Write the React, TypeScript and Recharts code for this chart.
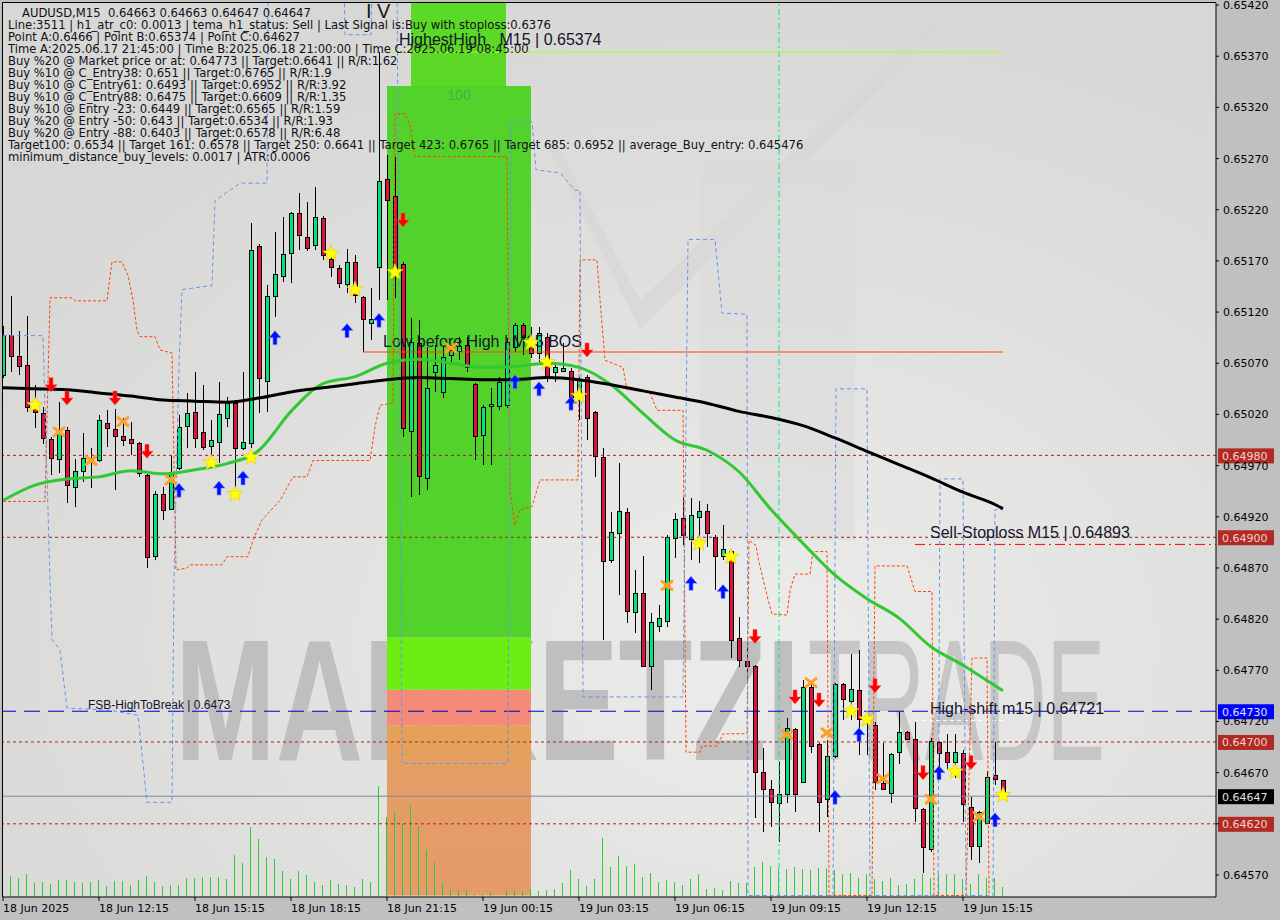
import React from 'react';
import { ComposedChart, Bar, Line, Scatter, XAxis, YAxis, ReferenceLine, ReferenceArea } from 'recharts';

// ---------- data ----------
const opens = [
  0.65059,0.65098,0.65077,0.65068,0.65026,0.65021,0.64996,0.64976,0.65005,0.64949,
  0.64965,0.64974,0.64975,0.65012,0.65006,0.64999,0.64996,0.64992,0.64961,0.64882,
  0.64942,0.64928,0.64968,0.65009,0.65022,0.65003,0.64989,0.64993,0.65017,0.65031,
  0.64987,0.64992,0.65185,0.65053,0.65136,0.65155,0.65178,0.65217,0.65193,0.65186,
  0.65212,0.65172,0.65163,0.65147,0.65169,0.65135,0.65109,0.65164,0.6525,0.65233,
  0.65167,0.65004,0.6509,0.64958,0.65061,0.65042,0.65078,0.65082,0.65088,0.6505,
  0.65,0.65028,0.65028,0.65029,0.65086,0.65107,0.65093,0.6508,0.65096,0.65061,
  0.65062,0.65062,0.65037,0.65057,0.65022,0.64978,0.64878,0.64904,0.64925,0.64827,
  0.64846,0.64774,0.64813,0.64818,0.64899,0.64919,0.64898,0.6492,0.64926,0.649,
  0.64882,0.64887,0.64802,0.64779,0.64774,0.64671,0.64654,0.6464,0.64649,0.64713,
  0.64661,0.64754,0.64698,0.64644,0.64686,0.64757,0.6474,0.64751,0.64722,0.64717,
  0.6466,0.6465,0.6469,0.6471,0.64703,0.64634,0.64595,0.647,0.6469,0.6468,
  0.64689,0.64636,0.64598,0.64621,0.64668,0.64663,
];
const highs = [
  0.65106,0.65136,0.65102,0.65116,0.65049,0.65027,0.64998,0.65032,0.65008,0.64976,
  0.65002,0.64987,0.65019,0.65024,0.65025,0.65017,0.65013,0.64993,0.64962,0.64945,
  0.64949,0.64979,0.65019,0.65041,0.65061,0.65049,0.65015,0.65052,0.65037,0.65034,
  0.65061,0.65207,0.65187,0.65146,0.65198,0.65213,0.65218,0.65236,0.65228,0.65242,
  0.65214,0.65176,0.65166,0.65182,0.65176,0.65136,0.65144,0.65374,0.65273,0.65272,
  0.65169,0.65114,0.65112,0.65086,0.65088,0.65086,0.65088,0.65096,0.65096,0.65051,
  0.65029,0.65046,0.65057,0.65095,0.65109,0.65109,0.65105,0.65105,0.651,0.65068,
  0.6509,0.65065,0.65057,0.65059,0.65023,0.64987,0.64925,0.64973,0.64929,0.64868,
  0.64882,0.64826,0.64834,0.64902,0.64924,0.64938,0.64938,0.64935,0.64932,0.64902,
  0.64912,0.64888,0.64822,0.64797,0.64775,0.64694,0.64663,0.6468,0.64723,0.64714,
  0.64761,0.64758,0.64699,0.64702,0.64758,0.64758,0.64786,0.6479,0.64726,0.64719,
  0.64699,0.64689,0.64729,0.64711,0.64719,0.64635,0.64704,0.64701,0.64708,0.64708,
  0.64692,0.64646,0.64633,0.64672,0.647,0.64663,
];
const lows = [
  0.65056,0.65061,0.65059,0.65022,0.65007,0.64991,0.64961,0.64963,0.64933,0.6493,
  0.64954,0.64948,0.64974,0.64988,0.64946,0.64989,0.6498,0.64959,0.6487,0.64878,
  0.64917,0.64927,0.64966,0.64987,0.64987,0.64985,0.64978,0.64973,0.65008,0.64949,
  0.64985,0.64987,0.65021,0.65022,0.65115,0.65149,0.65148,0.65181,0.6518,0.65181,
  0.65171,0.65154,0.65144,0.65139,0.65129,0.65081,0.65093,0.65132,0.65132,0.65134,
  0.64998,0.64939,0.64941,0.64946,0.65042,0.65036,0.65068,0.65073,0.65061,0.64975,
  0.64971,0.64971,0.65024,0.65026,0.65081,0.65078,0.65075,0.65071,0.65052,0.65052,
  0.65061,0.65024,0.65015,0.64995,0.64959,0.648,0.64875,0.64844,0.64816,0.64806,
  0.64773,0.64751,0.64807,0.64812,0.6488,0.64892,0.64878,0.64875,0.6489,0.64848,
  0.64878,0.64782,0.64773,0.64758,0.64626,0.64612,0.64617,0.64602,0.6464,0.64632,
  0.6466,0.64689,0.64612,0.64627,0.64684,0.64721,0.64721,0.64687,0.64687,0.64653,
  0.64653,0.6464,0.64678,0.64702,0.64622,0.64572,0.64592,0.64673,0.64673,0.64665,
  0.64622,0.64585,0.64582,0.64621,0.64658,0.64647,
];
const closes = [
  0.65098,0.65077,0.65067,0.65027,0.65022,0.64997,0.64977,0.65002,0.64951,0.64965,
  0.64977,0.64977,0.65015,0.65007,0.64999,0.64995,0.64992,0.64963,0.64881,0.64942,
  0.64927,0.64964,0.65008,0.65021,0.64997,0.64988,0.64995,0.6502,0.65031,0.64987,
  0.64993,0.65181,0.65056,0.65136,0.65157,0.65177,0.65217,0.65195,0.65183,0.65213,
  0.65176,0.65164,0.65148,0.65169,0.65137,0.65113,0.65113,0.65248,0.6523,0.65159,
  0.65007,0.65091,0.6496,0.65046,0.65068,0.65076,0.65083,0.65087,0.65066,0.64999,
  0.65027,0.6503,0.65052,0.65091,0.65107,0.65096,0.6508,0.651,0.65056,0.65066,
  0.65065,0.65037,0.65054,0.65017,0.64979,0.64877,0.64905,0.64926,0.64828,0.64846,
  0.64774,0.64817,0.64821,0.649,0.64918,0.64902,0.64922,0.64926,0.64904,0.64882,
  0.64889,0.648,0.6478,0.64774,0.64671,0.64654,0.64641,0.64649,0.64714,0.64649,
  0.64754,0.64696,0.64641,0.64686,0.64757,0.64742,0.64752,0.64722,0.64719,0.64661,
  0.64654,0.64688,0.6471,0.64703,0.64635,0.64597,0.64701,0.64689,0.6468,0.6469,
  0.64639,0.64598,0.64632,0.64666,0.64664,0.64647,
];
const volumes = [
  280,210,190,230,140,150,130,170,170,150,
  140,150,170,110,160,160,120,170,210,150,
  110,120,120,190,190,200,200,200,180,420,
  340,700,580,400,380,260,180,260,220,150,
  120,170,130,120,100,180,150,1110,800,850,
  730,910,710,470,350,140,80,70,70,20,
  20,50,10,70,70,60,80,60,70,80,
  140,270,180,110,180,590,300,410,310,330,
  200,240,150,170,150,120,180,230,80,90,
  70,160,140,140,300,350,310,280,280,300,
  280,270,290,290,270,230,240,190,230,180,
  160,190,120,130,180,230,190,230,230,230,
  180,130,230,190,190,100,
];

const xTickIdx = [0, 12, 24, 36, 48, 60, 72, 84, 96, 108, 120];
const xTickLabels = [
  '18 Jun 2025', '18 Jun 12:15', '18 Jun 15:15', '18 Jun 18:15', '18 Jun 21:15',
  '19 Jun 00:15', '19 Jun 03:15', '19 Jun 06:15', '19 Jun 09:15', '19 Jun 12:15', '19 Jun 15:15',
];
const priceTicks = [
  0.6542, 0.6537, 0.6532, 0.6527, 0.6522, 0.6517, 0.6512, 0.6507, 0.6502,
  0.6497, 0.6492, 0.6487, 0.6482, 0.6477, 0.6472, 0.6467, 0.6462, 0.6457,
];

// moving averages (sampled along the bars)
const maIdx = [0,4,8,12,16,20,24,28,32,36,40,44,48,52,56,60,64,68,72,76,80,84,88,92,96,100,104,108,112,116,120,124,125];
const maSlow = [
  0.65046,0.65045,0.65044,0.65041,0.65038,0.65034,0.65033,0.65032,0.65036,0.65042,0.65046,
  0.6505,0.65054,0.65056,0.65055,0.65054,0.65054,0.65056,0.65054,0.65049,0.65043,0.65037,
  0.65031,0.65023,0.65017,0.65009,0.64997,0.64984,0.64971,0.64958,0.64944,0.64932,0.64928,
];
const maFast = [
  0.64936,0.64951,0.64957,0.64959,0.64965,0.64962,0.64966,0.64972,0.64985,0.65023,0.6505,
  0.65057,0.6507,0.65074,0.6507,0.65066,0.65067,0.6507,0.65066,0.65049,0.65021,0.64995,
  0.64985,0.64964,0.64927,0.64894,0.64863,0.6484,0.64821,0.64793,0.64775,0.64755,0.6475,
];

// stepped envelopes
const blueEnvX = [0,5,5.875,6.125,7.125,8,13.375,16.875,18,21.125,21.375,22,22.375,26.125,26.5,29.625,33,33.125,42.625,42.75,46,46.125,49.25,49.875,63.125,63.5,66.125,66.625,69.625,71.5,72.125,72.5,85,85.625,89,89.875,93,93.125,103.75,104.125,108,108.375,116.875,117.125,120,120.375,123.75,124,125];
const blueEnvP = [0.65097,0.65097,0.64858,0.648,0.6479,0.64733,0.64731,0.64726,0.64641,0.64641,0.64858,0.6507,0.65142,0.65146,0.65229,0.65246,0.65246,0.65445,0.65445,0.65391,0.65391,0.65445,0.65445,0.64679,0.64679,0.65306,0.65306,0.65259,0.65256,0.65239,0.65239,0.64744,0.64744,0.65191,0.65191,0.65119,0.65118,0.6455,0.6455,0.65045,0.65045,0.6455,0.6455,0.64957,0.64957,0.6455,0.6455,0.64927,0.64927];
const orangeEnvX = [0,5.25,5.875,8.625,9,13,13.625,14.875,15.625,16.25,16.75,17.125,19,19.625,21.125,21.625,23,23.375,27.375,28,30.625,31.25,32.375,34.625,36.25,38,38.75,45.875,46.5,47.125,48.75,49,50.25,50.875,51.5,63,63.375,64,64.625,66.125,67.125,71.875,72.125,74.25,74.625,75.25,77.5,78,80,80.875,81.75,85,85.375,87.125,87.375,89.25,90,93,93.25,94.125,94.375,95.625,96.125,98,98.375,99,100.875,101.25,103,103.25,108.625,109,113,114,116.125,116.375,120.375,121.125,123,123.25];
const orangeEnvP = [0.64935,0.64935,0.65134,0.65134,0.65131,0.65131,0.65169,0.65169,0.65156,0.65132,0.65102,0.65096,0.65096,0.65083,0.6508,0.64868,0.6487,0.64873,0.64873,0.64881,0.64881,0.64897,0.64917,0.64936,0.64959,0.64959,0.64975,0.64975,0.65008,0.65029,0.65031,0.65314,0.65314,0.65303,0.65272,0.65272,0.64946,0.64912,0.64927,0.6493,0.64956,0.64956,0.65171,0.65171,0.65132,0.65073,0.65066,0.65044,0.65044,0.65041,0.65024,0.65024,0.6469,0.6469,0.64696,0.64696,0.64708,0.64708,0.64897,0.64892,0.6488,0.64839,0.64825,0.64824,0.64848,0.64864,0.64864,0.64886,0.64886,0.6455,0.6455,0.64872,0.64872,0.64847,0.64847,0.6455,0.6455,0.64782,0.64782,0.6455];

// signal markers [bar, price]
const starMarks = [[4,0.65029],[26,0.64973],[29,0.64942],[31,0.64978],[41,0.65177],[44,0.65142],[49,0.65159],[66,0.6509],[68,0.65071],[72,0.65038],[87,0.64894],[91,0.64881],[106,0.6473],[108,0.64722],[119,0.64671],[125,0.64648]];
const crossMarks = [[7,0.65003],[11,0.64975],[15,0.65013],[21,0.64956],[56,0.65085],[83,0.64853],[98,0.64707],[101,0.64758],[103,0.64709],[110,0.64664],[116,0.64644],[122,0.64627]];
const downMarks = [[6,0.65049],[8,0.65036],[14,0.65036],[18,0.64984],[50,0.6521],[73,0.65083],[94,0.64803],[99,0.64744],[102,0.64741],[109,0.64755],[115,0.6467],[121,0.6468]];
const upMarks = [[22,0.64946],[27,0.64948],[30,0.64958],[34,0.65095],[43,0.65102],[47,0.65112],[64,0.65052],[67,0.65045],[71,0.65031],[86,0.64855],[90,0.64847],[104,0.64646],[107,0.64707],[117,0.6467],[124,0.64624]];

// levels
const dottedLevels = [0.6498, 0.649, 0.647, 0.6462];
const fsbLevel = 0.6473;
const bidLevel = 0.64647;
const highestHigh = 0.65374;
const lowBeforeHigh = 0.65081;
const sellStop = 0.64893;
const highShift = 0.64721;
const tagValues = [0.6498, 0.649, 0.6473, 0.647, 0.64647, 0.6462];
const zoneBars = [48, 66];
const zoneTopBars = [51, 62.875];
const zoneBands = [0.6455, 0.64716, 0.64751, 0.64802, 0.65341, 0.6543];
const vLineBar = 97;

const infoLines = [
  'Line:3511 | h1_atr_c0: 0.0013 | tema_h1_status: Sell | Last Signal is:Buy with stoploss:0.6376',
  'Point A:0.6466 | Point B:0.65374 | Point C:0.64627',
  'Time A:2025.06.17 21:45:00 | Time B:2025.06.18 21:00:00 | Time C:2025.06.19 08:45:00',
  'Buy %20 @ Market price or at: 0.64773 || Target:0.6641 || R/R:1.62',
  'Buy %10 @ C_Entry38: 0.651 || Target:0.6765 || R/R:1.9',
  'Buy %10 @ C_Entry61: 0.6493 || Target:0.6952 || R/R:3.92',
  'Buy %10 @ C_Entry88: 0.6475 || Target:0.6609 || R/R:1.35',
  'Buy %10 @ Entry -23: 0.6449 || Target:0.6565 || R/R:1.59',
  'Buy %20 @ Entry -50: 0.643 || Target:0.6534 || R/R:1.93',
  'Buy %20 @ Entry -88: 0.6403 || Target:0.6578 || R/R:6.48',
  'Target100: 0.6534 || Target 161: 0.6578 || Target 250: 0.6641 || Target 423: 0.6765 || Target 685: 0.6952 || average_Buy_entry: 0.645476',
  'minimum_distance_buy_levels: 0.0017 | ATR:0.0006',
];
const headerLine = 'AUDUSD,M15  0.64663 0.64663 0.64647 0.64647';

// ---------- derived tables ----------
const candles = opens.map((o, i) => ({
  i, o, h: highs[i], l: lows[i], c: closes[i], range: [lows[i], highs[i]], vol: volumes[i],
}));
const pts = (xs: number[], ps: number[]) => xs.map((x, k) => ({ i: x, p: ps[k] }));
const slowPts = pts(maIdx, maSlow);
const fastPts = pts(maIdx, maFast);
const bluePts = pts(blueEnvX, blueEnvP);
const orangePts = pts(orangeEnvX, orangeEnvP);
const mk = (a: number[][]) => a.map(([i, p]) => ({ i, p }));

const AX = 'DejaVu Sans';
const LS = 'Liberation Sans';
const PRICE_DOMAIN: [number, number] = [0.645485, 0.65422];

function CandleShape(props: any) {
  const { x, y, width, height, payload } = props;
  if (!payload || x == null || y == null) return null;
  const top = Math.min(y, y + height);
  const hgt = Math.abs(height);
  const span = payload.h - payload.l;
  const k = span > 0 ? hgt / span : 0;
  const yO = top + (payload.h - payload.o) * k;
  const yC = top + (payload.h - payload.c) * k;
  const cx = Math.round(x + width / 2) + 0.5;
  const b1 = Math.round(Math.min(yO, yC)) + 0.5;
  const b2 = Math.max(b1 + 1, Math.round(Math.max(yO, yC)) + 0.5);
  const up = payload.c >= payload.o;
  return (
    <g>
      <line x1={cx} x2={cx} y1={Math.round(top)} y2={Math.round(top + hgt)} stroke="#000" strokeWidth={1} />
      <rect x={cx - 2} y={b1} width={4} height={b2 - b1} fill={up ? '#00e47a' : '#dc143c'} stroke="#000" strokeWidth={1} />
    </g>
  );
}

function StarShape(props: any) {
  const { cx, cy } = props;
  const p: string[] = [];
  for (let k = 0; k < 10; k++) {
    const r = k % 2 === 0 ? 8.5 : 3.6;
    const a = -Math.PI / 2 + (k * Math.PI) / 5;
    p.push(`${cx + r * Math.cos(a)},${cy + r * Math.sin(a)}`);
  }
  return <polygon points={p.join(' ')} fill="#ffff00" stroke="#e8c800" strokeWidth={0.6} />;
}
function CrossShape(props: any) {
  const { cx, cy } = props;
  return (
    <g stroke="#ffa020" strokeWidth={3} strokeLinecap="round">
      <line x1={cx - 5} y1={cy - 4} x2={cx + 5} y2={cy + 4} />
      <line x1={cx - 5} y1={cy + 4} x2={cx + 5} y2={cy - 4} />
    </g>
  );
}
function DownShape(props: any) {
  const { cx, cy } = props;
  const pp = [[-2, -7], [2, -7], [2, 0], [6, 0], [0, 7], [-6, 0], [-2, 0]].map(([a, b]) => `${cx + a},${cy + b}`).join(' ');
  return <polygon points={pp} fill="#ff0000" stroke="#ff5050" strokeWidth={0.5} />;
}
function UpShape(props: any) {
  const { cx, cy } = props;
  const pp = [[-2, 7], [2, 7], [2, 0], [6, 0], [0, -7], [-6, 0], [-2, 0]].map(([a, b]) => `${cx + a},${cy + b}`).join(' ');
  return <polygon points={pp} fill="#0010ff" stroke="#7090ff" strokeWidth={0.6} />;
}

function XTick(props: any) {
  const { x, y, payload } = props;
  const k = xTickIdx.indexOf(payload.value);
  return (
    <text x={x} y={y} dy={9} fontSize={11} fontFamily={AX} fill="#000" textAnchor="start">
      {k >= 0 ? xTickLabels[k] : ''}
    </text>
  );
}
function YTick(props: any) {
  const { x, y, payload } = props;
  const v = Number(payload.value);
  // a tick whose value carries a price tag is covered by that tag
  if (tagValues.some((t) => Math.abs(t - v) < 1e-7)) return null;
  return (
    <text x={x} y={y} dy={4} fontSize={11} fontFamily={AX} fill="#000" textAnchor="start">
      {v.toFixed(5)}
    </text>
  );
}

const tag = (txt: string, bg: string, fg: string) => (props: any) => {
  const vb = props.viewBox;
  if (!vb) return null;
  const x = vb.x + vb.width + 2;
  const y = vb.y;
  return (
    <g>
      <rect x={x} y={y - 7} width={56} height={15} fill={bg} />
      <text x={x + 4} y={y + 4.5} fontSize={11} fontFamily={AX} fill={fg}>{txt}</text>
    </g>
  );
};
const segText = (txt: string, dx: number, dy: number, size: number) => (props: any) => {
  const vb = props.viewBox;
  if (!vb) return null;
  return (
    <text x={vb.x + dx} y={vb.y + dy} fontSize={size} fontFamily={LS} fill="#15152a" xmlSpace="preserve" style={{ whiteSpace: 'pre' }}>
      {txt}
    </text>
  );
};
const fsbLabel = (props: any) => {
  const vb = props.viewBox;
  if (!vb) return null;
  return (
    <g>
      <text x={vb.x + 85} y={vb.y - 2} fontSize={12} fontFamily={LS} fill="#15152a">{`FSB-HighToBreak | ${fsbLevel}`}</text>
      {tag(fsbLevel.toFixed(5), '#0000ff', '#d8e4ff')(props)}
    </g>
  );
};

export default function App() {
  const W = 1280;
  const H = 920;
  return (
    <div style={{ position: 'absolute', left: 0, top: 0, width: W, height: H, background: '#c0c0c0', overflow: 'hidden' }}>
      <svg width={W} height={H} style={{ position: 'absolute', left: 0, top: 0 }}>
        <defs>
          <radialGradient id="plotBg" cx="0.62" cy="0.72" r="0.75">
            <stop offset="0" stopColor="#ececeb" />
            <stop offset="0.55" stopColor="#e0e0df" />
            <stop offset="1" stopColor="#d7d7d5" />
          </radialGradient>
          <linearGradient id="orangeZone" x1="0" y1="0" x2="0" y2="1">
            <stop offset="0" stopColor="#e6a256" />
            <stop offset="0.35" stopColor="#e49d66" />
            <stop offset="1" stopColor="#e69b6a" />
          </linearGradient>
        </defs>
        <rect x={3} y={3} width={1213} height={894} fill="url(#plotBg)" />
        <polygon points="540,130 640,330 950,18 930,22 640,300 560,150" fill="#d6d6d6" opacity={0.7} />
        <polygon points="700,160 855,160 855,540 700,540" fill="#d9d9d9" opacity={0.5} />
        <text x={175} y={760} fontSize={172} fontWeight="bold" fontFamily={LS} fill="#bfbfbf" textLength={625} lengthAdjust="spacingAndGlyphs">MARKETZI</text>
        <text x={808} y={760} fontSize={172} fontFamily={LS} fill="#c6c6c6" textLength={297} lengthAdjust="spacingAndGlyphs">TRADE</text>
        <line x1={2.5} y1={2.5} x2={1216} y2={2.5} stroke="#000" />
        <line x1={2.5} y1={2.5} x2={2.5} y2={897} stroke="#000" />
      </svg>
      <div style={{ position: 'absolute', left: 0, top: 0 }}>
        <ComposedChart width={W} height={H} data={candles} margin={{ top: 3, right: 0, bottom: 0, left: 3 }}>
          <XAxis type="number" dataKey="i" domain={[0, 151.625]} ticks={xTickIdx} allowDataOverflow interval={0}
            height={23} tickSize={4} tickMargin={2} axisLine={{ stroke: '#000' }} tickLine={{ stroke: '#000' }} tick={<XTick />} />
          <XAxis xAxisId="vx" type="number" dataKey="i" domain={[0, 151.625]} allowDataOverflow hide />
          <YAxis orientation="right" domain={PRICE_DOMAIN} ticks={priceTicks} allowDataOverflow interval={0}
            width={64} tickSize={3} tickMargin={4} axisLine={{ stroke: '#000' }} tickLine={{ stroke: '#000' }} tick={<YTick />} />
          <YAxis yAxisId="v" domain={[0, 8940]} hide />

          <ReferenceArea x1={zoneBars[0]} x2={zoneBars[1]} y1={zoneBands[0]} y2={zoneBands[1]} fill="url(#orangeZone)" fillOpacity={1} ifOverflow="hidden" />
          <ReferenceArea x1={zoneBars[0]} x2={zoneBars[1]} y1={zoneBands[1]} y2={zoneBands[2]} fill="#f48a78" fillOpacity={1} ifOverflow="hidden" />
          <ReferenceArea x1={zoneBars[0]} x2={zoneBars[1]} y1={zoneBands[2]} y2={zoneBands[3]} fill="#6cee12" fillOpacity={1} ifOverflow="hidden" />
          <ReferenceArea x1={zoneBars[0]} x2={zoneBars[1]} y1={zoneBands[3]} y2={zoneBands[4]} fill="#54d22c" fillOpacity={1} ifOverflow="hidden"
            label={(p: any) => p.viewBox ? (
              <text x={p.viewBox.x + p.viewBox.width / 2} y={p.viewBox.y + 14} textAnchor="middle" fontSize={14} fontFamily={LS} fill="#3cb440">100</text>
            ) : null} />
          <ReferenceArea x1={zoneTopBars[0]} x2={zoneTopBars[1]} y1={zoneBands[4]} y2={zoneBands[5]} fill="#5cd826" fillOpacity={1} ifOverflow="hidden" />

          <Bar dataKey="vol" xAxisId="vx" yAxisId="v" barSize={1} fill="#2ecc2e" stroke="none" isAnimationActive={false} />

          <ReferenceLine x={vLineBar} stroke="#00ee78" strokeDasharray="6 3 2 3" />
          {dottedLevels.map((lv) => (
            <ReferenceLine key={lv} y={lv} stroke="#a82020" strokeDasharray="3 3" label={tag(lv.toFixed(5), '#b02a26', '#f6d2c8')} />
          ))}
          <ReferenceLine y={bidLevel} stroke="#7a8aa0" label={tag(bidLevel.toFixed(5), '#000000', '#e0e0e0')} />
          <ReferenceLine y={fsbLevel} stroke="#0000cd" strokeDasharray="16 8" label={fsbLabel} />
          <ReferenceLine segment={[{ x: 114, y: sellStop }, { x: 151.625, y: sellStop }]} stroke="#ff0000" strokeDasharray="10 4 2 4"
            label={segText(`Sell-Stoploss M15 | ${sellStop.toFixed(5)}`, 15, -6, 16)} />
          <ReferenceLine segment={[{ x: 114, y: highShift }, { x: 125, y: highShift }]} stroke="#ffffff" strokeDasharray="4 3"
            label={segText(`High-shift m15 | ${highShift.toFixed(5)}`, 15, -6, 16)} />
          <ReferenceLine segment={[{ x: 48, y: highestHigh }, { x: 125, y: highestHigh }]} stroke="#adff2f"
            label={segText(`HighestHigh   M15 | ${highestHigh.toFixed(5)}`, 12, -7, 16)} />
          <ReferenceLine segment={[{ x: 45, y: lowBeforeHigh }, { x: 125, y: lowBeforeHigh }]} stroke="#ff4500"
            label={segText('Low before High | M15 BOS', 20, -5, 16)} />

          <Bar dataKey="range" barSize={5} shape={<CandleShape />} isAnimationActive={false} />

          <Line data={orangePts} dataKey="p" type="linear" stroke="#ff4500" strokeWidth={1} strokeDasharray="3 2" dot={false} activeDot={false} isAnimationActive={false} />
          <Line data={bluePts} dataKey="p" type="linear" stroke="#6495ed" strokeWidth={1} strokeDasharray="4 3" dot={false} activeDot={false} isAnimationActive={false} />
          <Line data={fastPts} dataKey="p" type="monotone" stroke="#32c832" strokeWidth={3} dot={false} activeDot={false} isAnimationActive={false} />
          <Line data={slowPts} dataKey="p" type="monotone" stroke="#000000" strokeWidth={3} dot={false} activeDot={false} isAnimationActive={false} />

          <Scatter data={mk(upMarks)} dataKey="p" shape={<UpShape />} isAnimationActive={false} />
          <Scatter data={mk(downMarks)} dataKey="p" shape={<DownShape />} isAnimationActive={false} />
          <Scatter data={mk(crossMarks)} dataKey="p" shape={<CrossShape />} isAnimationActive={false} />
          <Scatter data={mk(starMarks)} dataKey="p" shape={<StarShape />} isAnimationActive={false} />
        </ComposedChart>
      </div>
      <svg width={W} height={200} style={{ position: 'absolute', left: 0, top: 0, pointerEvents: 'none' }}>
        <text x={366} y={18} fontSize={20} fontFamily={LS} fill="#1a1a1a" xmlSpace="preserve" style={{ whiteSpace: 'pre' }}>I V</text>
        <text x={22} y={17} fontSize={11.6} fontFamily={AX} fill="#101018" xmlSpace="preserve" style={{ whiteSpace: 'pre' }}>{headerLine}</text>
        {infoLines.map((t, k) => (
          <text key={k} x={8} y={29 + k * 12} fontSize={11.6} fontFamily={AX} fill="#101018" xmlSpace="preserve" style={{ whiteSpace: 'pre' }}>{t}</text>
        ))}
      </svg>
    </div>
  );
}
